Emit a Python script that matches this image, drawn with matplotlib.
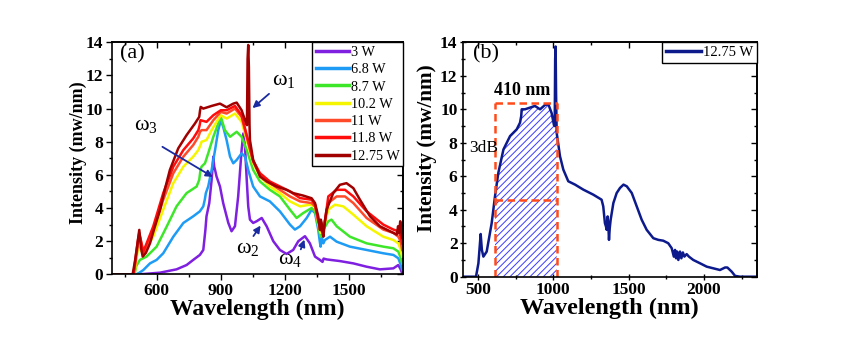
import numpy as np
import matplotlib
matplotlib.use("Agg")
import matplotlib.pyplot as plt
from matplotlib.ticker import MultipleLocator, NullFormatter

plt.rcParams['font.family'] = ['Liberation Serif', 'DejaVu Serif']
plt.rcParams['mathtext.fontset'] = 'custom'
plt.rcParams['mathtext.rm'] = 'Liberation Serif'
plt.rcParams['mathtext.it'] = 'Liberation Serif'
plt.rcParams['mathtext.bf'] = 'Liberation Serif:bold'
plt.rcParams['hatch.linewidth'] = 0.7

# ---------------- data: panel (a) ----------------
labels_a = ["3 W", "6.8 W", "8.7 W", "10.2 W", "11 W", "11.8 W", "12.75 W"]
colors_a = ["#7f1fe0", "#1e9cf5", "#3ee62a", "#f5f500", "#ff4a2a", "#ff0c0c", "#a00000"]

wl_3w = [390, 500, 540, 616, 693, 740, 771, 802, 818, 824, 828, 833, 846, 857, 865, 869, 873, 880, 896, 911,
         935, 950, 966, 981, 997, 1005, 1013, 1021, 1028, 1036, 1051, 1067, 1091, 1114, 1145, 1176, 1207, 1238,
         1262, 1293, 1316, 1340, 1363, 1375, 1380, 1394, 1456, 1519, 1581, 1643, 1706, 1729, 1740, 1747]
i_3w = [0, 0, 0.02, 0.1, 0.3, 0.56, 0.87, 1.17, 1.47, 2.2, 2.7, 3.5, 4.3, 5.7, 7.1, 6.5, 6.3, 5.9, 5.3, 4.3,
        3.1, 2.6, 2.9, 4.7, 7.5, 8.5, 7.7, 5.7, 4.1, 3.3, 3.1, 3.2, 3.4, 2.9, 2.0, 1.47, 1.23, 1.47,
        2.0, 2.3, 1.87, 1.07, 0.87, 0.75, 0.95, 0.9, 0.8, 0.66, 0.46, 0.3, 0.36, 0.56, 0.3, 0.06]

wl_6w = [390, 505, 520, 538, 569, 600, 631, 678, 725, 771, 802, 818, 825, 830, 841, 857, 873, 888, 900, 911,
         927, 943, 958, 974, 997, 1013, 1028, 1051, 1083, 1129, 1176, 1223, 1246, 1270, 1301, 1324, 1340, 1355,
         1362, 1366, 1372, 1379, 1386, 1410, 1441, 1503, 1581, 1659, 1706, 1729, 1740, 1747]
i_6w = [0, 0, 0.1, 0.26, 0.66, 0.87, 1.27, 2.27, 3.1, 3.5, 3.8, 4.1, 4.5, 4.9, 5.3, 6.3, 7.5, 8.7, 9.3, 8.9,
        8.1, 7.1, 6.7, 6.9, 7.3, 7.1, 6.3, 5.3, 4.7, 4.4, 3.8, 3.0, 2.7, 2.9, 3.4, 3.9, 3.7, 2.7,
        2.0, 1.67, 2.2, 1.87, 2.07, 2.27, 1.97, 1.67, 1.47, 1.27, 1.17, 0.97, 0.6, 0.26]

wl_8w = [390, 497, 505, 522, 553, 600, 647, 693, 740, 787, 799, 805, 810, 826, 841, 865, 888, 900, 919, 943,
         974, 997, 1021, 1051, 1083, 1129, 1176, 1223, 1254, 1285, 1324, 1340, 1355, 1366, 1379, 1402, 1417,
         1441, 1503, 1581, 1659, 1706, 1729, 1740, 1747]
i_8w = [0, 0, 0.5, 0.87, 1.07, 1.67, 2.88, 4.1, 4.9, 5.3, 5.7, 6.3, 6.5, 6.7, 7.3, 8.3, 9.1, 9.5, 8.7, 8.3,
        8.6, 8.3, 7.5, 6.3, 5.6, 5.1, 4.7, 3.9, 3.4, 3.7, 4.0, 3.8, 2.9, 2.27, 2.7, 3.2, 3.3,
        2.9, 2.27, 1.87, 1.67, 1.57, 1.37, 1.0, 0.66]

wl_10w = [390, 496, 505, 514, 522, 538, 584, 631, 678, 725, 771, 795, 805, 810, 833, 857, 880, 900, 927, 966,
          997, 1021, 1051, 1083, 1129, 1176, 1223, 1270, 1316, 1340, 1355, 1366, 1379, 1402, 1433, 1472, 1519,
          1581, 1659, 1706, 1729, 1740, 1747]
i_10w = [0, 0, 0.8, 1.67, 1.5, 1.27, 2.27, 3.9, 5.5, 6.5, 7.1, 7.5, 7.8, 8.0, 8.1, 8.7, 9.2, 9.6, 9.4, 9.7,
         9.2, 8.1, 6.7, 5.9, 5.3, 4.9, 4.4, 4.1, 4.2, 4.1, 3.1, 2.5, 2.7, 3.9, 4.2, 4.1, 3.6,
         2.9, 2.27, 2.07, 1.87, 1.5, 1.07]

wl_11w = [390, 494, 503, 514, 522, 538, 584, 631, 678, 725, 771, 795, 803, 810, 833, 865, 900, 927, 966, 997,
          1021, 1051, 1083, 1129, 1176, 1223, 1270, 1324, 1340, 1355, 1366, 1379, 1402, 1441, 1480, 1519, 1581,
          1659, 1706, 1729, 1740, 1747]
i_11w = [0, 0, 0.9, 1.9, 2.27, 1.27, 2.7, 4.5, 6.1, 7.1, 7.8, 8.3, 8.6, 8.7, 8.7, 9.3, 9.8, 9.7, 10.0, 9.5,
         8.3, 6.8, 6.0, 5.5, 5.1, 4.7, 4.4, 4.3, 4.1, 3.2, 2.7, 2.7, 4.3, 4.7, 4.7, 4.3, 3.4,
         2.7, 2.5, 2.27, 2.0, 1.47]

wl_118w = [390, 492, 501, 512, 519, 538, 584, 631, 678, 725, 771, 795, 801, 805, 833, 865, 900, 927, 966, 997,
           1021, 1051, 1083, 1129, 1176, 1223, 1270, 1324, 1340, 1355, 1366, 1379, 1402, 1441, 1480, 1519, 1581,
           1659, 1706, 1729, 1740, 1747]
i_118w = [0, 0, 0.9, 2.0, 2.5, 1.37, 2.88, 4.9, 6.5, 7.5, 8.2, 8.7, 9.0, 9.3, 9.2, 9.6, 9.9, 9.9, 10.16, 9.6,
          8.4, 6.86, 6.1, 5.6, 5.3, 5.0, 4.6, 4.5, 4.2, 3.3, 2.7, 2.5, 4.7, 5.1, 5.1, 4.7, 3.8,
          3.0, 2.7, 2.6, 2.3, 1.87]

wl_1275w = [390, 488, 499, 510, 519, 527, 535, 550, 569, 590, 616, 640, 662, 701, 740, 779, 799, 803, 806, 818,
            857, 896, 927, 958, 974, 997, 1013, 1022, 1025, 1028, 1031, 1034, 1036, 1051, 1083, 1114, 1160, 1207,
            1238, 1285, 1324, 1340, 1355, 1360, 1363, 1367, 1371, 1375, 1379, 1386, 1394, 1425, 1456, 1487, 1519,
            1550, 1597, 1643, 1690, 1722, 1728, 1733, 1738, 1742, 1747]
i_1275w = [0, 0, 0.8, 1.8, 2.68, 1.6, 1.07, 1.3, 1.87, 2.8, 3.88, 5.2, 6.3, 7.6, 8.4, 9.1, 9.5, 9.9, 10.1, 10.0,
           10.16, 10.3, 10.08, 10.3, 10.36, 9.9, 9.3, 9.0, 13.0, 13.84, 12.5, 9.0, 8.1, 6.9, 5.9, 5.6, 5.3, 5.1,
           4.9, 4.75, 4.59, 4.3, 3.5, 3.0, 2.68, 3.3, 3.1, 2.5, 2.27, 3.2, 3.9, 4.9, 5.4, 5.5, 5.2,
           4.5, 3.5, 2.9, 2.6, 2.4, 2.9, 2.5, 3.2, 2.7, 2.2]

series_a = [(wl_3w, i_3w), (wl_6w, i_6w), (wl_8w, i_8w), (wl_10w, i_10w),
            (wl_11w, i_11w), (wl_118w, i_118w), (wl_1275w, i_1275w)]

# ---------------- data: panel (b) ----------------
wl_b = [400, 488, 504, 519, 527, 537, 559, 592, 614, 636, 670, 714, 758, 780, 788, 791, 813, 846, 879, 913,
        946, 968, 990, 1005, 1010, 1013, 1016, 1019, 1023, 1045, 1067, 1100, 1145, 1200, 1266, 1321, 1332, 1343,
        1350, 1355, 1361, 1366, 1370, 1375, 1381, 1399, 1421, 1443, 1466, 1488, 1521, 1554, 1587, 1620, 1664,
        1697, 1730, 1763, 1786, 1800, 1808, 1815, 1822, 1830, 1841, 1850, 1860, 1870, 1885, 1900, 1929, 1974,
        2018, 2062, 2106, 2140, 2155, 2184, 2206, 2239, 2350]
i_b = [0, 0, 0.8, 2.55, 1.6, 1.2, 1.5, 3.2, 4.8, 6.2, 7.6, 8.4, 8.8, 9.2, 9.6, 10.0, 10.0, 10.1, 10.2, 10.0,
       10.26, 10.3, 9.76, 9.06, 9.0, 13.0, 13.75, 11.0, 8.6, 7.2, 6.4, 5.7, 5.5, 5.2, 4.9, 4.6, 4.2, 3.2,
       3.0, 2.8, 3.6, 3.0, 2.2, 2.9, 3.4, 4.4, 5.0, 5.3, 5.5, 5.4, 5.0, 4.2, 3.4, 2.8, 2.3,
       2.2, 2.15, 2.0, 1.7, 1.2, 1.6, 1.1, 1.5, 1.0, 1.5, 1.1, 1.45, 1.2, 1.35, 1.2, 1.0, 0.8,
       0.6, 0.5, 0.4, 0.55, 0.55, 0.3, 0.05, 0, 0]
label_b = "12.75 W"
band_lo, band_hi = 614, 1023
band_top, band_3db = 10.36, 4.6

bold = dict(fontweight='bold')

fig = plt.figure(figsize=(8.55, 3.6), dpi=100)
axa = fig.add_axes([0.1306, 0.238, 0.341, 0.6445])
axb = fig.add_axes([0.5412, 0.2314, 0.3439, 0.651])

def style(ax, xmaj, xmin, direction):
    ax.xaxis.set_major_locator(MultipleLocator(xmaj))
    ax.xaxis.set_minor_locator(MultipleLocator(xmin))
    ax.yaxis.set_major_locator(MultipleLocator(2))
    ax.yaxis.set_minor_locator(MultipleLocator(1))
    ax.set_ylim(0, 14)
    ax.tick_params(which='both', direction=direction, width=1.0)
    ax.tick_params(which='major', length=4.5)
    ax.tick_params(which='minor', length=2.5)
    ax.tick_params(axis='both', labelsize=12.5, pad=1.5)
    for lab in ax.get_xticklabels() + ax.get_yticklabels():
        lab.set_fontweight('bold')
    for s in ax.spines.values():
        s.set_linewidth(1.2)
    # mirrored ticks on top / right, pointing inward, without labels
    sx = ax.secondary_xaxis('top')
    sx.xaxis.set_major_locator(MultipleLocator(xmaj))
    sx.xaxis.set_minor_locator(MultipleLocator(xmin))
    sx.xaxis.set_major_formatter(NullFormatter())
    sx.tick_params(which='both', direction='in', width=1.0)
    sx.tick_params(which='major', length=4)
    sx.tick_params(which='minor', length=2.5)
    sx.spines['top'].set_linewidth(1.2)
    sy = ax.secondary_yaxis('right')
    sy.yaxis.set_major_locator(MultipleLocator(2))
    sy.yaxis.set_minor_locator(MultipleLocator(1))
    sy.yaxis.set_major_formatter(NullFormatter())
    sy.tick_params(which='both', direction='in', width=1.0)
    sy.tick_params(which='major', length=4)
    sy.tick_params(which='minor', length=2.5)
    sy.spines['right'].set_linewidth(1.2)

# Panel (a)
for (x, y), c, lab in zip(series_a, colors_a, labels_a):
    axa.plot(x, y, color=c, lw=1.8, label=lab)
axa.set_xlim(390, 1752)
style(axa, 300, 150, 'out')
axa.set_xlabel("Wavelength (nm)", fontsize=17, labelpad=0, **bold)
axa.set_ylabel("Intensity (mw/nm)", fontsize=13, **bold)
axa.yaxis.set_label_coords(-0.085, 0.523)
leg = axa.legend(loc='upper right', fontsize=10.3, frameon=True, fancybox=False, framealpha=1,
                 edgecolor='black', borderpad=0.25, labelspacing=0.3, handlelength=2.3,
                 handletextpad=0.15, borderaxespad=0.0)
leg.get_frame().set_linewidth(1.0)
for ln in leg.get_lines():
    ln.set_linewidth(2.5)
axa.text(0.03, 0.99, "(a)", transform=axa.transAxes, fontsize=16, va='top')

arrow_col = "#1a2aa0"
ap = dict(arrowstyle='-|>', color=arrow_col, lw=1.3, mutation_scale=10)
axa.text(1195, 11.7, r"$\omega_1$", fontsize=16, ha='center', va='center')
axa.annotate('', xy=(1038, 9.92), xytext=(1135, 11.0), arrowprops=ap)
axa.text(548, 9.0, r"$\omega_3$", fontsize=16, ha='center', va='center')
axa.annotate('', xy=(874, 5.79), xytext=(616, 7.78), arrowprops=ap)
axa.text(1024, 1.55, r"$\omega_2$", fontsize=16, ha='center', va='center')
axa.annotate('', xy=(1093, 3.08), xytext=(1045, 2.17), arrowprops=ap)
axa.text(1225, 0.9, r"$\omega_4$", fontsize=16, ha='center', va='center')
axa.annotate('', xy=(1295, 2.25), xytext=(1269, 1.35), arrowprops=ap)

# Panel (b)
xb = np.array(wl_b, dtype=float)
yb = np.array(i_b, dtype=float)
xf = np.linspace(band_lo, band_hi, 300)
yf = np.minimum(np.interp(xf, xb, yb), band_top)
axb.fill_between(xf, 0, yf, facecolor='none', edgecolor='#3a3aff', hatch='/////', lw=0)
axb.plot(xb, yb, color="#0c1a8c", lw=1.8, label=label_b)
dash = dict(color='#ff4a1a', lw=1.8, ls=(0, (3, 1.8)))
axb.plot([band_lo, band_lo], [0, band_top], **dash)
axb.plot([band_hi, band_hi], [0, band_top], **dash)
axb.plot([band_lo, band_hi], [band_top, band_top], **dash)
axb.plot([band_lo, band_hi], [band_3db, band_3db], **dash)
axb.set_xlim(400, 2350)
style(axb, 500, 250, 'inout')
axb.set_xlabel("Wavelength (nm)", fontsize=17.5, labelpad=0, **bold)
axb.set_ylabel("Intensity (mw/nm)", fontsize=15.3, **bold)
axb.yaxis.set_label_coords(-0.088, 0.547)
legb = axb.legend(loc='upper right', fontsize=10.5, frameon=True, fancybox=False, framealpha=1,
                  edgecolor='black', borderpad=0.25, handlelength=2.4, handletextpad=0.15,
                  borderaxespad=0.0)
legb.get_frame().set_linewidth(1.0)
for ln in legb.get_lines():
    ln.set_linewidth(2.5)
axb.text(0.035, 0.99, "(b)", transform=axb.transAxes, fontsize=16, va='top')
axb.text(795, 11.1, "410 nm", fontsize=13, ha='center', va='center', **bold)
axb.text(540, 7.7, "3dB", fontsize=12.5, ha='center', va='center')

fig.savefig("out.png", dpi=100)
